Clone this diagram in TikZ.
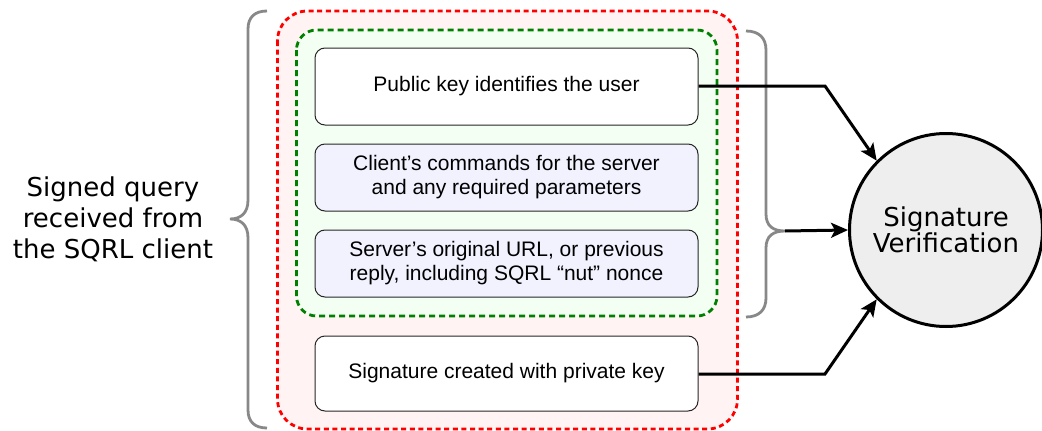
\documentclass[tikz,border=0pt]{standalone}
\usepackage{fontspec}
\setmainfont{Liberation Sans}
\newfontfamily\dejavu{DejaVu Sans}
\usetikzlibrary{arrows.meta}
\definecolor{pinkfill}{HTML}{FFF4F3}
\definecolor{greenfill}{HTML}{F2FFF2}
\definecolor{lavfill}{HTML}{F2F2FF}
\definecolor{circfill}{HTML}{EEEEEE}
\definecolor{bracegray}{HTML}{888888}
\definecolor{dgreen}{HTML}{008000}
\tikzset{
  box/.style={draw=black!85, line width=1pt, rounded corners=10pt, minimum width=383pt,
    align=center, font=\fontsize{21}{24}\selectfont, inner sep=0pt},
  brace/.style={draw=bracegray, line width=2.8pt},
  conn/.style={draw=black, line width=3pt, -{Stealth[length=17pt,width=15pt,inset=4pt]}},
}
\begin{document}
\begin{tikzpicture}[x=1pt,y=-1pt]
\useasboundingbox (0,0) rectangle (1042,431);
% containers
\draw[red, fill=pinkfill, line width=2.8pt, dash pattern=on 5pt off 3.6pt, rounded corners=30pt]
  (277.5,11) rectangle (737.5,429);
\draw[dgreen, fill=greenfill, line width=2.8pt, dash pattern=on 6pt off 4pt, rounded corners=20pt]
  (296.5,30) rectangle (717,316);
% boxes
\node[box, fill=white, minimum height=77pt] (b1) at (506.5,86.5) {Public key identifies the user};
\node[box, fill=lavfill, minimum height=67pt] (b2) at (506.5,177.5) {Client’s commands for the server\\and any required parameters};
\node[box, fill=lavfill, minimum height=67pt] (b3) at (506.5,263.5) {Server’s original URL, or previous\\reply, including SQRL “nut” nonce};
\node[box, fill=white, minimum height=75pt] (b4) at (506.5,373.5) {Signature created with private key};
% braces
\draw[brace] (267,11) .. controls (255,11) and (248,17) .. (248,29) -- (248,200)
  .. controls (248,213) and (241,219) .. (230,219)
  .. controls (241,219) and (248,225) .. (248,238) -- (248,410)
  .. controls (248,422) and (255,428) .. (267,428);
\draw[brace] (746,31) .. controls (759,31) and (766,38) .. (766,50) -- (766,214)
  .. controls (766,226) and (773,231) .. (785,231)
  .. controls (773,231) and (766,236) .. (766,248) -- (766,298)
  .. controls (766,310) and (759,317) .. (746,317);
\coordinate (rb) at (785,231);
% labels
\node[align=center, font=\dejavu\fontsize{26}{31}\selectfont] (lbl) at (113,219)
  {Signed query\\received from\\the SQRL client};
\node[circle, draw=black, line width=3pt, fill=circfill, minimum size=193pt, inner sep=0pt,
  align=center, font=\dejavu\fontsize{26}{25}\selectfont] (sv) at (946,230) {Signature\\Verification};
% connectors
\coordinate (k1) at (825,86);
\coordinate (k2) at (825,374);
\draw[conn] (b1.east |- k1) -- (k1) -- (sv.135);
\draw[conn] (rb) -- (sv.west);
\draw[conn] (b4.east |- k2) -- (k2) -- (sv.225);
\end{tikzpicture}
\end{document}
